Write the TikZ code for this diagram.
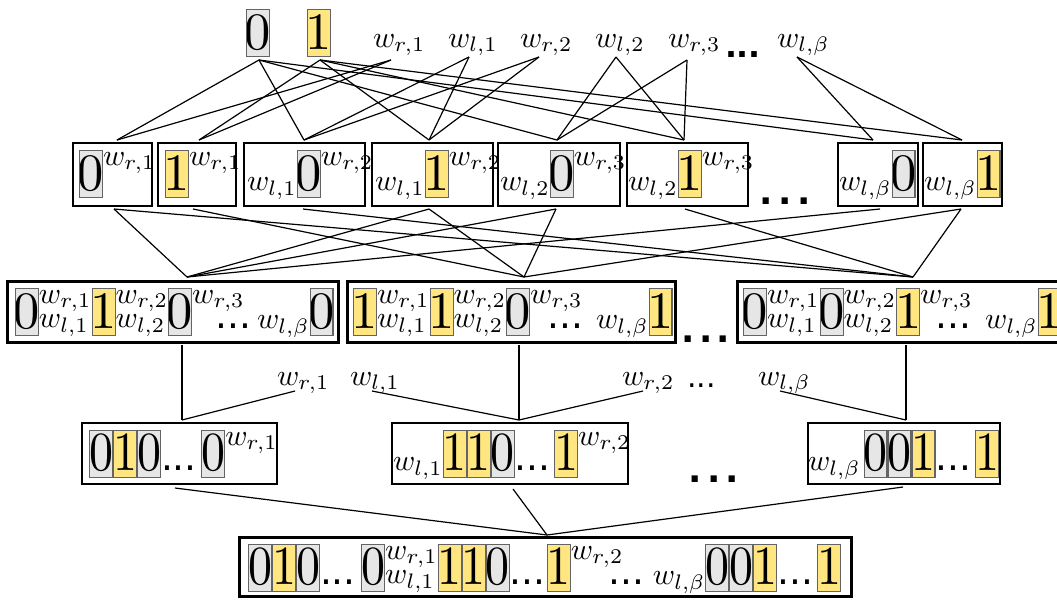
\documentclass[tikz,border=0pt]{standalone}
\usepackage{fontspec}
\usepackage{graphicx}
\newfontfamily\dotfont{DejaVu Sans}
\definecolor{cellgray}{RGB}{230,230,230}
\definecolor{cellyellow}{RGB}{255,230,128}
\definecolor{cellline}{RGB}{100,100,100}
\newcommand\cellbox[2]{{\fboxsep=0pt\fboxrule=0.35pt\fcolorbox{cellline}{#1}{\rule[-2.1pt]{0pt}{15.3pt}\makebox[7.3pt]{\scalebox{1.75}{\fontsize{10}{10}\selectfont #2}}}}}
\newcommand\cellboxt[2]{{\fboxsep=0pt\fboxrule=0.35pt\fcolorbox{cellline}{#1}{\rule[-2.1pt]{0pt}{15.3pt}\makebox[7.3pt]{\scalebox{1.6}[1.84]{\fontsize{10}{10}\selectfont #2}}}}}
\newcommand\zc{\cellbox{cellgray}{0}}
\newcommand\oc{\cellbox{cellyellow}{1}}
\newcommand\zt{\cellboxt{cellgray}{0}}
\newcommand\ot{\cellboxt{cellyellow}{1}}
\newcommand\supsub[2]{\begingroup\setbox0=\hbox{$#1$}\setbox2=\hbox{$#2$}\dimen0=\wd0 \ifdim\wd2>\dimen0 \dimen0=\wd2 \fi\hbox to\dimen0{\raise8.5pt\box0\hss}\kern-\dimen0\hbox to\dimen0{\raise0.3pt\box2\hss}\endgroup}
\newcommand\indots{{\dotfont\fontsize{12.5}{12.5}\selectfont...}}
\newcommand\bigdots[2]{{\dotfont\bfseries\fontsize{#1}{#1}\selectfont.\kern#2.\kern#2.}}
\begin{document}
\begin{tikzpicture}[x=0.33333pt,y=-0.33333pt,
  fr/.style={draw=black,line width=0.7pt,fill=white,inner sep=0pt,outer sep=0pt},
  frb/.style={fr,line width=1pt},
  txt/.style={anchor=base west,inner sep=0pt,outer sep=0pt},
  txte/.style={anchor=base east,inner sep=0pt,outer sep=0pt},
  conn/.style={line width=0.4pt}]
\clip (0,0) rectangle (1057,599);

% ---------- top row ----------
\node[txt] (t0) at (246,49.4) {\zc};
\node[txt] (t1) at (307,49.4) {\oc};
\node[txt] (Lr1) at (373,47) {$w_{r,1}$};
\node[txt] (Ll1) at (448,47) {$w_{l,1}$};
\node[txt] (Lr2) at (520,47) {$w_{r,2}$};
\node[txt] (Ll2) at (595,47) {$w_{l,2}$};
\node[txt] (Lr3) at (668,47) {$w_{r,3}$};
\node[txt] (Ltd) at (725,57) {\bigdots{10.5}{0pt}};
\node[txt] (Llb) at (777,47) {$w_{l,\beta}$};

\coordinate (t0p) at (259,60);
\coordinate (t1p) at (320,60);
\coordinate (Lr1p) at (391,60);
\coordinate (Ll1p) at (469,57);
\coordinate (Lr2p) at (539,57);
\coordinate (Ll2p) at (616,57);
\coordinate (Lr3p) at (687,60);
\coordinate (Llbp) at (797,57);

% ---------- row 2 ----------
\coordinate (At) at (117,140); \coordinate (Ab) at (114,209);
\coordinate (Bt) at (199,140); \coordinate (Bb) at (193,209);
\coordinate (Ct) at (304,140); \coordinate (Cb) at (303,209);
\coordinate (Dt) at (429,140); \coordinate (Db) at (429,209);
\coordinate (Et) at (557,140); \coordinate (Eb) at (556,209);
\coordinate (Ft) at (684,140); \coordinate (Fb) at (685,209);
\coordinate (Gt) at (873,140); \coordinate (Gb) at (880,209);
\coordinate (Ht) at (962,140); \coordinate (Hb) at (961,209);

% ---------- row 3 ----------
\coordinate (Pt) at (187,277); \coordinate (Pb) at (182,345);
\coordinate (Qt) at (524,277); \coordinate (Qb) at (519,345);
\coordinate (Rt) at (913,277); \coordinate (Rb) at (906,345);

% ---------- mid labels ----------
\node[txt] (Mr1) at (277,385) {$w_{r,1}$};
\node[txt] (Ml1) at (350,385) {$w_{l,1}$};
\node[txt] (Mr2) at (622,385) {$w_{r,2}$};
\node[txt] (Mdd) at (687,387) {{\dotfont\fontsize{10}{10}\selectfont...}};
\node[txt] (Mlb) at (758,385) {$w_{l,\beta}$};
\coordinate (Mr1p) at (295,391);
\coordinate (Ml1p) at (372,391);
\coordinate (Mr2p) at (643,391);
\coordinate (Mlbp) at (780,391);

% ---------- row 4 ----------
\coordinate (St) at (182,420); \coordinate (Sb) at (175,488);
\coordinate (Tt) at (519,420); \coordinate (Tb) at (513,489);
\coordinate (Ut) at (906,420); \coordinate (Ub) at (903,487);
\coordinate (Vt) at (547,535);

% ---------- connectors ----------
\foreach \s/\t in {t0p/At,t0p/Ct,t0p/Et,t0p/Gt,t1p/Bt,t1p/Dt,t1p/Ft,t1p/Ht,
  Lr1p/At,Lr1p/Bt,Ll1p/Ct,Ll1p/Dt,Lr2p/Ct,Lr2p/Dt,Ll2p/Et,Ll2p/Ft,Lr3p/Et,Lr3p/Ft,Llbp/Gt,Llbp/Ht,
  Ab/Pt,Db/Pt,Eb/Pt,Gb/Pt,Bb/Qt,Db/Qt,Eb/Qt,Hb/Qt,Ab/Rt,Cb/Rt,Fb/Rt,Hb/Rt,
  Pb/St,Mr1p/St,Qb/Tt,Ml1p/Tt,Mr2p/Tt,Rb/Ut,Mlbp/Ut,Sb/Vt,Tb/Vt,Ub/Vt}
  \draw[conn] (\s) -- (\t);

% ---------- row 2 frames & contents ----------
\node[fr,minimum width=26.33pt,minimum height=21pt] (A) at (112.5,174.5) {};
\node[fr,minimum width=26pt,minimum height=21pt] (B) at (197,174.5) {};
\node[fr,minimum width=40.33pt,minimum height=21pt] (C) at (304.5,174.5) {};
\node[fr,minimum width=40.33pt,minimum height=21pt] (D) at (432.5,174.5) {};
\node[fr,minimum width=40.67pt,minimum height=21pt] (E) at (559,174.5) {};
\node[fr,minimum width=40.33pt,minimum height=21pt] (F) at (687.5,174.5) {};
\node[fr,minimum width=26.67pt,minimum height=21pt] (G) at (878,174.5) {};
\node[fr,minimum width=26.33pt,minimum height=21pt] (H) at (962.5,174.5) {};
\node[txt] (Ac) at (79,190.6) {\zc\supsub{w_{r,1}}{}};
\node[txt] (Bc) at (165,190.6) {\oc\supsub{w_{r,1}}{}};
\node[txt] (Cc) at (247,190.6) {$w_{l,1}$\zc\supsub{w_{r,2}}{}};
\node[txt] (Dc) at (375,190.6) {$w_{l,1}$\oc\supsub{w_{r,2}}{}};
\node[txt] (Ec) at (500,190.6) {$w_{l,2}$\zc\supsub{w_{r,3}}{}};
\node[txt] (Fc) at (628,190.6) {$w_{l,2}$\oc\supsub{w_{r,3}}{}};
\node[txt] (Gc) at (839,190.6) {$w_{l,\beta}$\zc};
\node[txt] (Hc) at (924,190.6) {$w_{l,\beta}$\oc};
\node[txt] (D2) at (759.7,204) {\bigdots{11.7}{1.9pt}};

% ---------- row 3 frames & contents ----------
\node[frb,minimum width=110pt,minimum height=20.33pt] (P) at (173,311.5) {};
\node[frb,minimum width=109.33pt,minimum height=20.33pt] (Q) at (511,311.5) {};
\node[frb,minimum width=110pt,minimum height=20.33pt] (R) at (902,311.5) {};
\node[txt] (Pc) at (15,328.6) {\zc\supsub{w_{r,1}}{w_{l,1}}\oc\supsub{w_{r,2}}{w_{l,2}}\zc\supsub{w_{r,3}}{}};
\node[txte] (Pd) at (333.5,328.6) {\indots\kern2pt$w_{l,\beta}$\zc};
\node[txt] (Qc) at (353,328.6) {\oc\supsub{w_{r,1}}{w_{l,1}}\oc\supsub{w_{r,2}}{w_{l,2}}\zc\supsub{w_{r,3}}{}};
\node[txte] (Qd) at (672.5,328.6) {\indots\kern4.3pt$w_{l,\beta}$\oc};
\node[txt] (Rc) at (743,328.6) {\zc\supsub{w_{r,1}}{w_{l,1}}\zc\supsub{w_{r,2}}{w_{l,2}}\oc\supsub{w_{r,3}}{}};
\node[txte] (Rd) at (1061.5,328.6) {\indots\kern4.5pt$w_{l,\beta}$\oc};
\node[txt] (D3) at (681.7,342) {\bigdots{11.7}{1.4pt}};

% ---------- row 4 frames & contents ----------
\node[fr,minimum width=65pt,minimum height=20.33pt] (S) at (179.5,453.5) {};
\node[fr,minimum width=78.67pt,minimum height=20.33pt] (T) at (510,453.5) {};
\node[fr,minimum width=64pt,minimum height=20.33pt] (U) at (904,453.5) {};
\node[txt] (Sc) at (89,470.6) {\zt\ot\zt\indots\kern1.5pt\zt\supsub{w_{r,1}}{}};
\node[txt] (Tc) at (393,470.6) {$w_{l,1}$\ot\ot\zt\indots\kern1.2pt\ot\supsub{w_{r,2}}{}};
\node[txt] (Uc) at (808,470.6) {$w_{l,\beta}$\kern1pt\zt\zt\ot\indots\kern1.3pt\ot};
\node[txt] (D4) at (688.7,482) {\bigdots{11.7}{1.7pt}};

% ---------- row 5 ----------
\node[frb,minimum width=203.67pt,minimum height=19.67pt] (V) at (545.5,566.5) {};
\node[txt] (Vc) at (248,584.6) {\zt\ot\zt\indots\kern1.8pt\zt\supsub{w_{r,1}}{w_{l,1}}\ot\ot\zt\indots\kern0.5pt\ot\supsub{w_{r,2}}{}};
\node[txte] (Vd) at (841,584.6) {\indots\kern2.7pt$w_{l,\beta}$\zt\zt\ot\indots\kern1.3pt\ot};
\end{tikzpicture}
\end{document}
